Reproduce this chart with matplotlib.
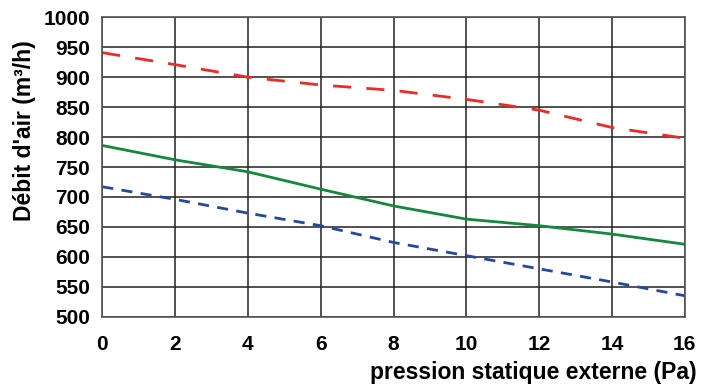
import matplotlib.pyplot as plt
import numpy as np

pression = [0, 2, 4, 6, 8, 10, 12, 14, 16]
debit_rouge = [941, 921, 900, 887, 878, 863, 845, 816, 798]
debit_vert = [786, 762, 742, 713, 685, 663, 652, 638, 621]
debit_bleu = [717, 696, 673, 652, 624, 602, 580, 558, 535]

x_ticks = np.arange(0, 17, 2)
y_ticks = np.arange(500, 1001, 50)

plt.rcParams['font.family'] = ['Liberation Sans', 'DejaVu Sans']

fig = plt.figure(figsize=(7.02, 3.91), dpi=100)
ax = fig.add_axes([0.1457, 0.19, 0.8297, 0.7657])

ax.plot(pression, debit_rouge, color='#ee2a24', lw=2, dashes=(6.5, 5.5))
ax.plot(pression, debit_vert, color='#14883c', lw=2)
ax.plot(pression, debit_bleu, color='#2447a0', lw=2, dashes=(4, 3))

ax.set_xlim(0, 16)
ax.set_ylim(500, 1000)
ax.set_xticks(x_ticks)
ax.set_yticks(y_ticks)
ax.grid(True, color='#222222', lw=1.1)
ax.set_axisbelow(True)
for s in ax.spines.values():
    s.set_color('#555555')
    s.set_linewidth(1.2)

ax.tick_params(length=0, labelsize=15)
ax.tick_params(axis='x', pad=13)
ax.tick_params(axis='y', pad=9)
for lab in ax.get_xticklabels() + ax.get_yticklabels():
    lab.set_fontweight('bold')

fig.text(24 / 702, 1 - 131 / 391, "Débit d'air (m³/h)", fontsize=16.5,
         fontweight='bold', rotation=90, ha='center', va='center')
fig.text(0.993, 0.018, 'pression statique externe (Pa)', fontsize=16.5,
         fontweight='bold', ha='right', va='bottom')

fig.savefig('out.png', dpi=100)
